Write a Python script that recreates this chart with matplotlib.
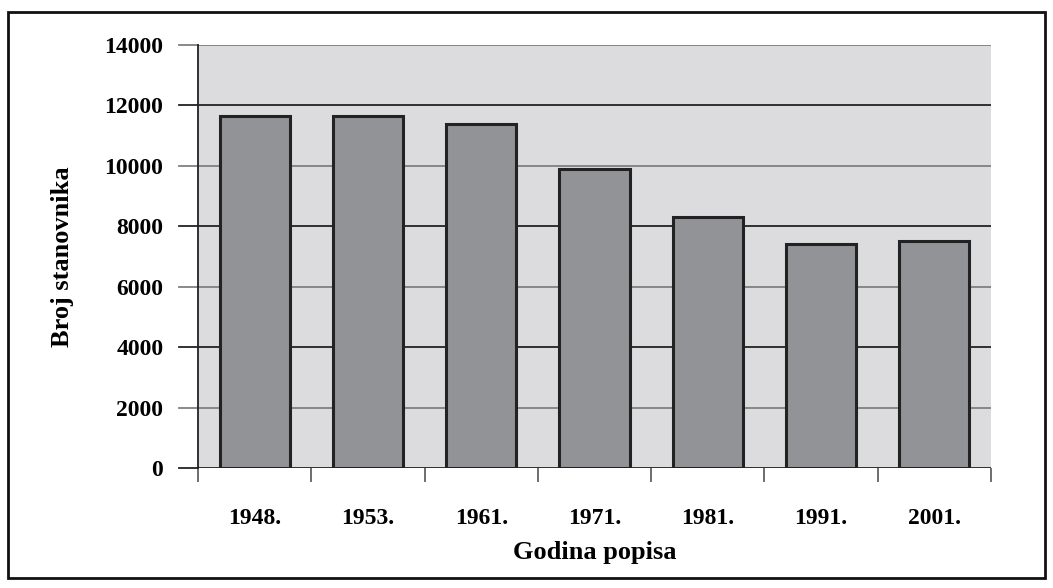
import matplotlib
matplotlib.use("Agg")
import matplotlib.pyplot as plt
from matplotlib.patches import Rectangle
import numpy as np

years = ["1948.", "1953.", "1961.", "1971.", "1981.", "1991.", "2001."]
population = [11660, 11660, 11395, 9900, 8320, 7425, 7525]
yticks = [0, 2000, 4000, 6000, 8000, 10000, 12000, 14000]

plt.rcParams['font.family'] = ['Liberation Serif', 'DejaVu Serif']
plt.rcParams['font.weight'] = 'bold'

fig = plt.figure(figsize=(10.53, 5.88), dpi=100)
ax = fig.add_axes([198/1053, 1 - 468/588, (991 - 198)/1053, (468 - 45)/588])
ax.set_facecolor('#dcdcde')

x = np.arange(len(years))
ax.set_xlim(-0.5, len(years) - 0.5)
ax.set_ylim(0, 14000)

# gridlines (alternating dark / grey like the scan)
for i, v in enumerate(yticks):
    col = '#222222' if i % 2 == 0 else '#808080'
    ax.axhline(v, color=col, lw=1.3, zorder=1)
    ax.plot([-0.5 - 0.165, -0.5], [v, v], color=col, lw=1.3, clip_on=False, zorder=1)

ax.bar(x, population, width=0.62, color='#929396', edgecolor='#222222', linewidth=2.2, zorder=3)

ax.set_yticks(yticks)
ax.set_yticklabels([str(v) for v in yticks], fontsize=17, fontweight='bold')
ax.tick_params(axis='y', length=0, pad=25)

ax.set_xticks(x)
ax.set_xticklabels(years, fontsize=17, fontweight='bold')
ax.tick_params(axis='x', length=0, pad=29)
ax.set_xticks(np.arange(-0.5, len(years)), minor=True)
ax.tick_params(axis='x', which='minor', length=10, width=1.2, color='#555555', direction='out')

for s in ['top', 'right']:
    ax.spines[s].set_visible(False)
ax.spines['left'].set_color('#222222')
ax.spines['left'].set_linewidth(1.3)
ax.spines['bottom'].set_visible(False)

ax.set_xlabel('Godina popisa', fontsize=19, fontweight='bold')
ax.set_ylabel('Broj stanovnika', fontsize=19, fontweight='bold')
ax.yaxis.set_label_coords(-0.156, 0.5)
ax.xaxis.set_label_coords(0.5, -0.172)

fig.patches.append(Rectangle((8/1053, 1 - 578/588), (1045 - 8)/1053, (578 - 12)/588,
                             transform=fig.transFigure, fill=False, edgecolor='#111111', linewidth=2))

fig.savefig('out.png', dpi=100)
